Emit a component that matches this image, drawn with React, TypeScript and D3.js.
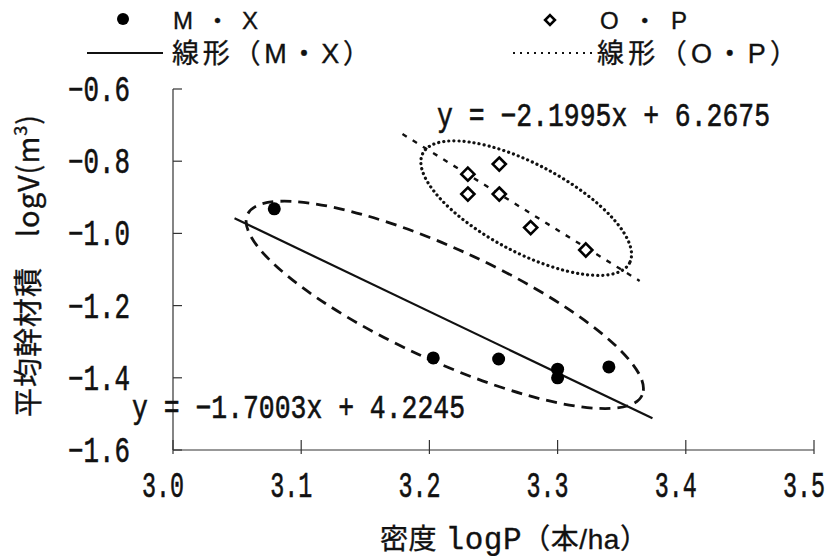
import * as d3 from "d3";
import React from "react";

// data
const mxX = [3.079, 3.203, 3.254, 3.3, 3.3, 3.34];
const mxY = [-0.932, -1.345, -1.348, -1.376, -1.4, -1.37];
const opX = [3.23, 3.2545, 3.23, 3.2545, 3.279, 3.322];
const opY = [-0.836, -0.808, -0.891, -0.891, -0.984, -1.046];
const mxFit = [-1.7003, 4.2245];
const opFit = [-2.1995, 6.2675];
const mxFitRange = [3.048, 3.374];
const opFitRange = [3.179, 3.364];
const xTicks = [3.0, 3.1, 3.2, 3.3, 3.4, 3.5];
const xTickLabels = ["3.0", "3.1", "3.2", "3.3", "3.4", "3.5"];
const yTicks = [-0.6, -0.8, -1.0, -1.2, -1.4, -1.6];
const yTickLabels = ["−0.6", "−0.8", "−1.0", "−1.2", "−1.4", "−1.6"];
const groupCenters = [
  [3.212, -1.198],
  [3.2755, -0.93],
];
const mxEq = "y = −1.7003x + 4.2245";
const opEq = "y = −2.1995x + 6.2675";

const W = 829;
const H = 556;
const sans = "'Liberation Sans', 'Noto Sans CJK JP', sans-serif";
const mono = "'Liberation Mono', 'DejaVu Sans Mono', monospace";
const ink = "#111";

export default function App() {
  const x = d3.scaleLinear().domain([3.0, 3.5]).range([173, 814]);
  const y = d3.scaleLinear().domain([-1.6, -0.6]).range([450, 89]);

  const fitLine = (fit: number[], range: number[]) =>
    d3.line<number>()
      .x((d) => x(d))
      .y((d) => y(fit[0] * d + fit[1]))(range) || "";

  const diamond = d3.symbol().type(d3.symbolDiamond2).size(110)() || "";

  // the scan makes text a little heavy; a thin outline imitates it
  const heavy = { stroke: ink, strokeWidth: 0.35 };

  return (
    <svg
      width={W}
      height={H}
      style={{ position: "absolute", left: 0, top: 0, background: "#fff" }}
    >
      {/* axes */}
      <g stroke="#333" strokeWidth={1.2} fill="none">
        <line x1={x(3.0)} x2={x(3.0)} y1={y(-0.6)} y2={y(-1.6)} />
        <line x1={x(3.0)} x2={x(3.5)} y1={y(-1.6)} y2={y(-1.6)} />
        {yTicks.map((t) => (
          <line key={"yt" + t} x1={x(3.0)} x2={x(3.0) + 9} y1={y(t)} y2={y(t)} />
        ))}
        {xTicks.map((t) => (
          <line key={"xt" + t} x1={x(t)} x2={x(t)} y1={y(-1.6) - 10} y2={y(-1.6) + 4} />
        ))}
      </g>

      {/* tick labels */}
      <g fontFamily={mono} fontSize={36} fill={ink} stroke={ink} strokeWidth={0.6}>
        {xTicks.map((t, i) => (
          <text key={"xl" + t} x={x(t) - 31} y={497} textLength={42} lengthAdjust="spacingAndGlyphs">
            {xTickLabels[i]}
          </text>
        ))}
        {yTicks.map((t, i) => (
          <text key={"yl" + t} x={68} y={y(t) + 12} textLength={62} lengthAdjust="spacingAndGlyphs">
            {yTickLabels[i]}
          </text>
        ))}
      </g>

      {/* axis titles */}
      <text x={380} y={549} fontFamily={sans} fontSize={28} fill={ink} {...heavy}
        textLength={268} lengthAdjust="spacing">
        密度 <tspan fontFamily={mono} fontSize={31}>logP</tspan>（本/ha）
      </text>
      <text
        transform="translate(39,417) rotate(-90)"
        fontFamily="'Noto Sans CJK JP', sans-serif"
        fontSize={29}
        fill={ink}
        {...heavy}
        textLength={302}
        lengthAdjust="spacing"
      >
        平均幹材積　logV(m<tspan fontSize={18} dy={-12}>3</tspan>
        <tspan dy={12}>)</tspan>
      </text>

      {/* group ellipses */}
      <ellipse
        cx={x(groupCenters[0][0])}
        cy={y(groupCenters[0][1])}
        rx={217}
        ry={56}
        transform={`rotate(24.6 ${x(groupCenters[0][0])} ${y(groupCenters[0][1])})`}
        fill="none"
        stroke={ink}
        strokeWidth={2.8}
        strokeDasharray="11 7"
      />
      <ellipse
        cx={x(groupCenters[1][0])}
        cy={y(groupCenters[1][1])}
        rx={117}
        ry={44}
        transform={`rotate(28 ${x(groupCenters[1][0])} ${y(groupCenters[1][1])})`}
        fill="none"
        stroke={ink}
        strokeWidth={3.2}
        strokeDasharray="0.1 5"
        strokeLinecap="round"
      />

      {/* trend lines */}
      <path d={fitLine(mxFit, mxFitRange)} stroke={ink} strokeWidth={2.2} fill="none" />
      <path
        d={fitLine(opFit, opFitRange)}
        stroke={ink}
        strokeWidth={2.4}
        fill="none"
        strokeDasharray="5 7"
      />

      {/* points */}
      {mxX.map((d, i) => (
        <circle key={"mx" + i} cx={x(d)} cy={y(mxY[i])} r={6.5} fill="#000" />
      ))}
      {opX.map((d, i) => (
        <path
          key={"op" + i}
          d={diamond}
          transform={`translate(${x(d)},${y(opY[i])})`}
          fill="#fff"
          stroke="#000"
          strokeWidth={2.6}
        />
      ))}

      {/* equations */}
      <g fontFamily={mono} fontSize={33} fill={ink} stroke={ink} strokeWidth={0.6}>
        <text x={132} y={418} textLength={333} lengthAdjust="spacingAndGlyphs">{mxEq}</text>
        <text x={437} y={126} textLength={333} lengthAdjust="spacingAndGlyphs">{opEq}</text>
      </g>

      {/* legend */}
      <g fontFamily={sans} fill={ink} {...heavy}>
        <text x={173} y={29} fontSize={24} textLength={85} lengthAdjust="spacing">M・X</text>
        <text x={600} y={29} fontSize={24} textLength={87} lengthAdjust="spacing">O・P</text>
        <text x={172} y={63} fontSize={27} textLength={198} lengthAdjust="spacing">線形（M・X）</text>
        <text x={597} y={63} fontSize={27} textLength={200} lengthAdjust="spacing">線形（O・P）</text>
      </g>
      <circle cx={123} cy={19} r={6} fill="#000" />
      <path d={diamond} transform="translate(550,20) scale(0.75)" fill="#fff" stroke="#000" strokeWidth={3.4} />
      <line x1={87} x2={163} y1={53} y2={53} stroke={ink} strokeWidth={2} />
      <line x1={513} x2={593} y1={53} y2={53} stroke={ink} strokeWidth={2.2} strokeDasharray="2 5" />
    </svg>
  );
}
